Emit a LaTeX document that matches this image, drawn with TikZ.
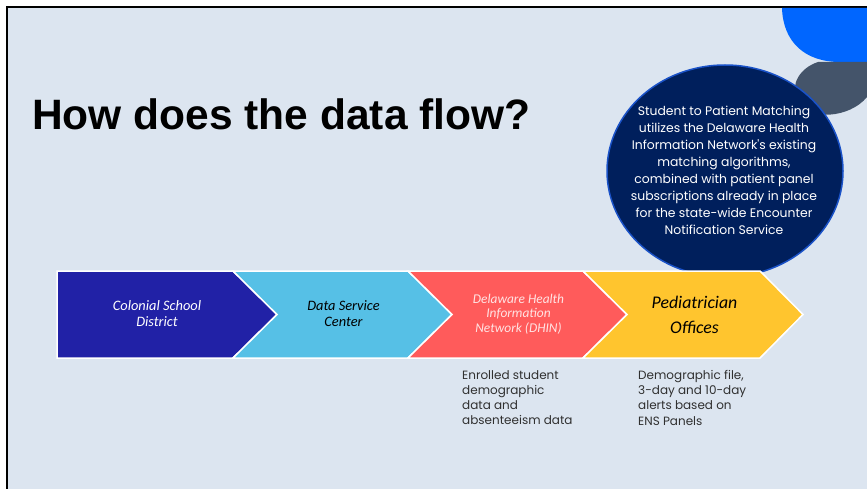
\documentclass[tikz,border=0pt]{standalone}
\usepackage{fontspec}
\usetikzlibrary{shapes.geometric}
\setmainfont{Liberation Sans}
\newfontfamily\titlefont{Liberation Sans}
\newfontfamily\gothic{Poppins}
\newfontfamily\calit{Carlito}
\definecolor{slidebg}{HTML}{DCE5F0}
\definecolor{cA}{HTML}{2121A6}
\definecolor{cB}{HTML}{56C0E6}
\definecolor{cC}{HTML}{FF5B5B}
\definecolor{cD}{HTML}{FFC52E}
\definecolor{navy}{HTML}{001F5C}
\definecolor{navyedge}{HTML}{1A52C8}
\definecolor{brightblue}{HTML}{0066FF}
\definecolor{slate}{HTML}{44546A}
\definecolor{pinkish}{HTML}{FFE3E3}
\definecolor{bodytext}{HTML}{303030}
\tikzset{
  chev/.style={draw=white, line width=1.5pt, line join=miter},
  chevtext/.style={align=center, inner sep=0pt},
  notetext/.style={align=left, anchor=north west, inner sep=0pt, text=bodytext,
    font=\gothic\fontsize{12}{15.3}\selectfont},
}
\begin{document}
\begin{tikzpicture}[x=1pt,y=-1pt]
\useasboundingbox (0,0) rectangle (867,489);
\fill[white] (0,0) rectangle (867,489);
\fill[slidebg] (8,8) rectangle (867,489);
\draw[black, line width=2pt] (7,489) -- (7,7) -- (867,7);
% decorative shapes
\fill[brightblue] (782,8) .. controls (783,42) and (805,62) .. (840,62) -- (867,62) -- (867,8) -- cycle;
\fill[slate] (867,62) -- (818,62) .. controls (800,68) and (790,84) .. (797,100)
   .. controls (808,122) and (850,118) .. (867,97) -- cycle;
% circle
\node[ellipse, draw=navyedge, fill=navy, line width=1.5pt, minimum width=236pt, minimum height=212pt, inner sep=0pt] (circ) at (725,171) {};
\node[align=center, text=white, inner sep=0pt, font=\gothic\fontsize{12.4}{17}\selectfont] (circtext) at (724,170)
 {Student to Patient Matching\\utilizes the Delaware Health\\Information Network's existing\\matching algorithms,\\combined with patient panel\\subscriptions already in place\\for the state-wide Encounter\\Notification Service};
% title
\node[anchor=base west, inner sep=0pt, font=\titlefont\bfseries\fontsize{42.5}{50}\selectfont] (title) at (32,130) {How does the data flow?};
% chevrons
\fill[cA] (57,271) -- (233,271) -- (277,314.5) -- (233,358) -- (57,358) -- cycle;
\draw[chev] (57,271) -- (233,271) -- (277,314.5) -- (233,358) -- (57,358) -- cycle;
\fill[cB] (233,271) -- (408,271) -- (452,314.5) -- (408,358) -- (233,358) -- (277,314.5) -- cycle;
\draw[chev] (233,271) -- (408,271) -- (452,314.5) -- (408,358) -- (233,358) -- (277,314.5) -- cycle;
\fill[cC] (408,271) -- (583,271) -- (627,314.5) -- (583,358) -- (408,358) -- (452,314.5) -- cycle;
\draw[chev] (408,271) -- (583,271) -- (627,314.5) -- (583,358) -- (408,358) -- (452,314.5) -- cycle;
\fill[cD] (583,271) -- (760,271) -- (803,314.5) -- (760,358) -- (583,358) -- (627,314.5) -- cycle;
\draw[chev] (583,271) -- (760,271) -- (803,314.5) -- (760,358) -- (583,358) -- (627,314.5) -- cycle;
\node[chevtext, text=white, font=\calit\itshape\fontsize{14.4}{16}\selectfont] (csd) at (157,314) {Colonial School\\District};
\node[chevtext, text=black, font=\calit\itshape\fontsize{14.4}{16}\selectfont] (dsc) at (343.5,313.5) {Data Service\\Center};
\node[chevtext, text=pinkish, font=\calit\itshape\fontsize{13.4}{14.6}\selectfont] (dhin) at (518.5,314) {Delaware Health\\Information\\Network (DHIN)};
\node[chevtext, text=black, font=\calit\itshape\fontsize{17.8}{25.5}\selectfont] (ped) at (694.5,315) {Pediatrician\\Offices};
% notes
\node[notetext] (note1) at (462,370) {Enrolled student\\demographic\\data and\\absenteeism data};
\node[notetext] (note2) at (638,370) {Demographic file,\\3-day and 10-day\\alerts based on\\ENS Panels};
\end{tikzpicture}
\end{document}
